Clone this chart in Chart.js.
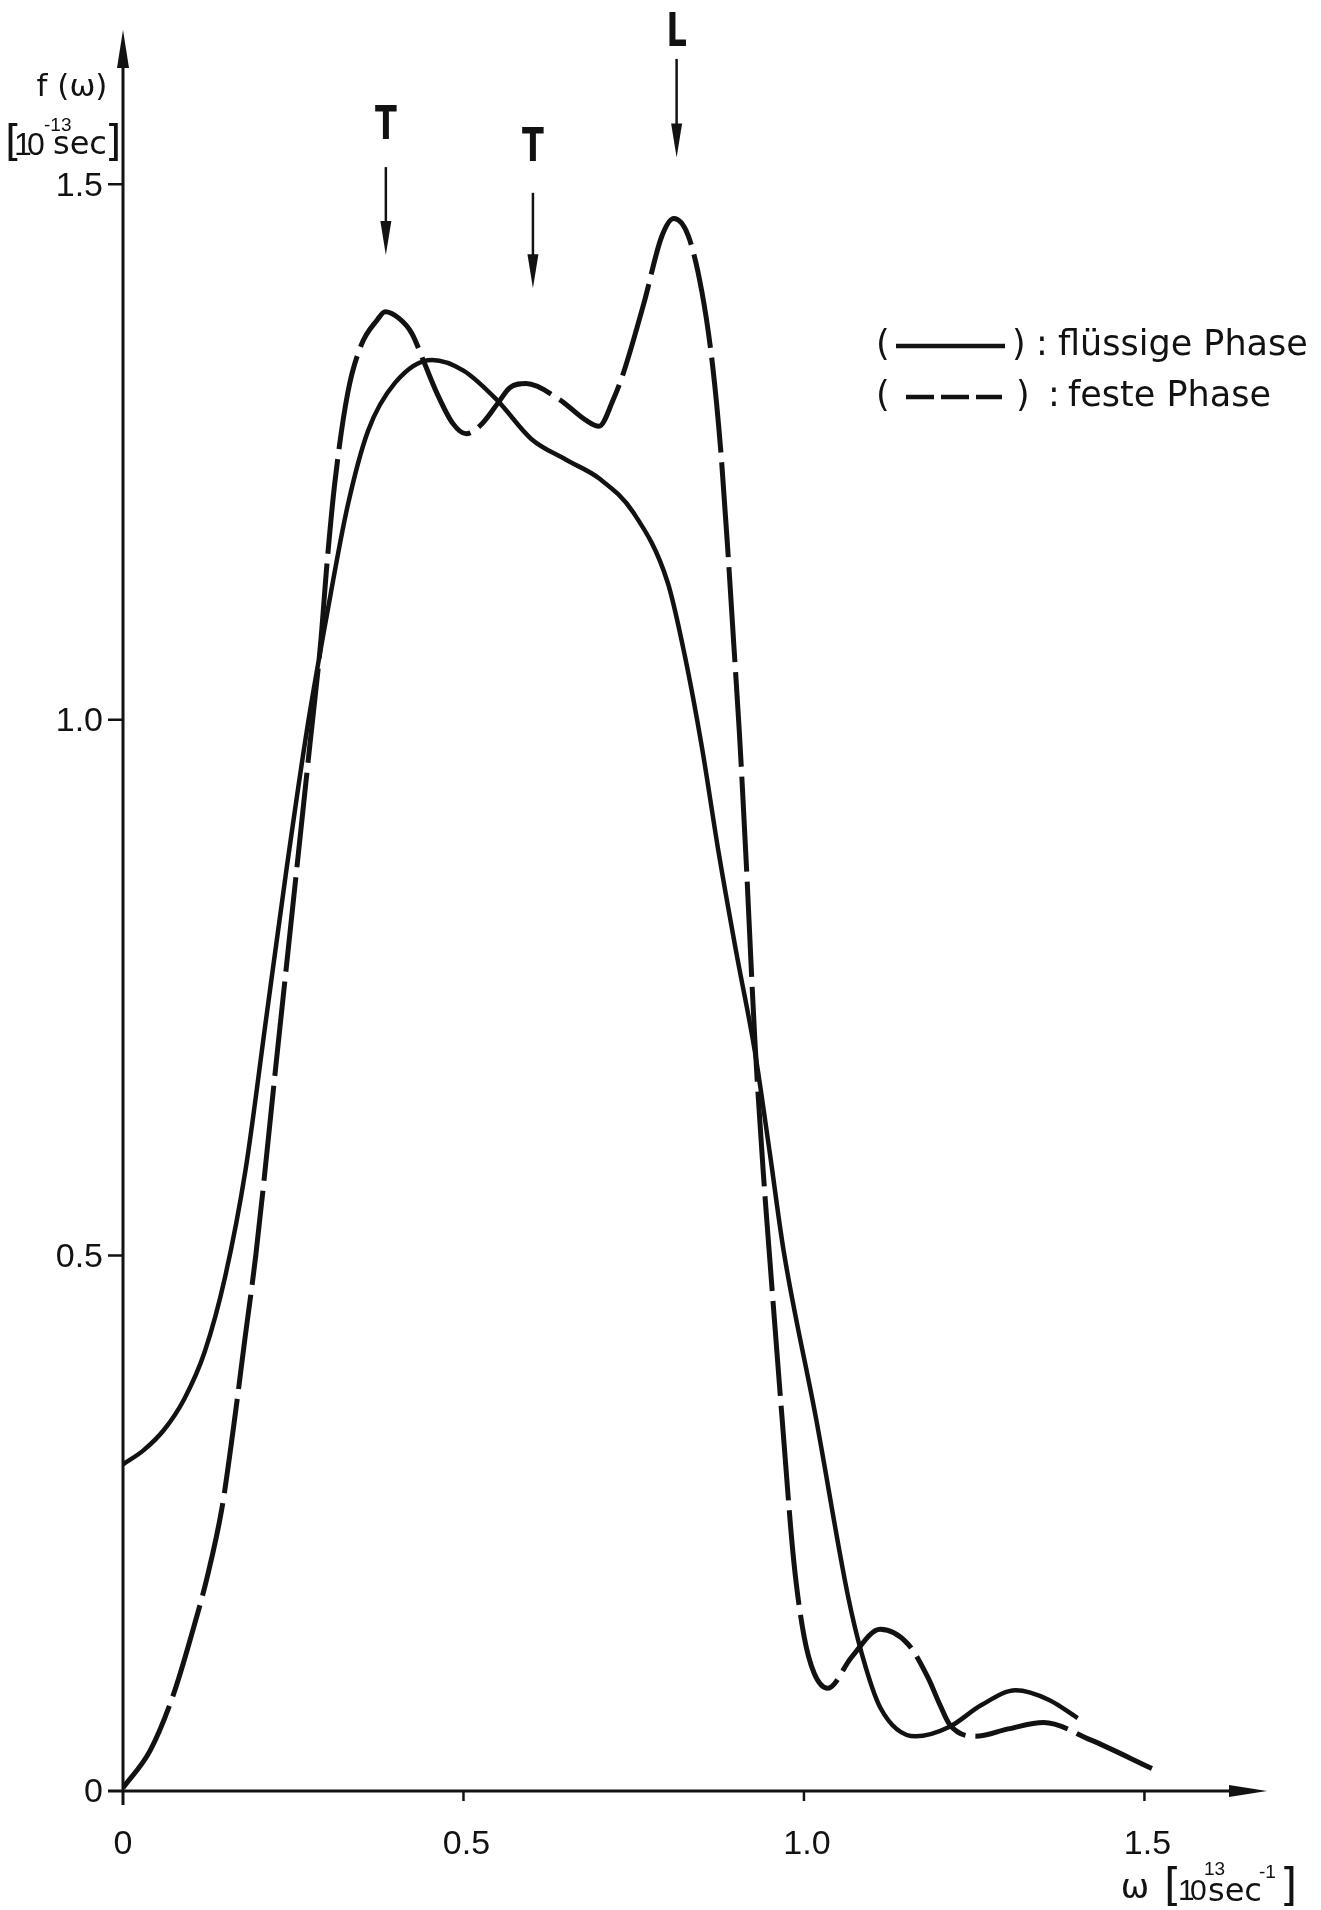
<!DOCTYPE html>
<html>
<head>
<meta charset="utf-8">
<script src="https://cdn.jsdelivr.net/npm/chart.js@4.4.1/dist/chart.umd.min.js"></script>
<style>
  html, body { margin: 0; padding: 0; background: #ffffff; }
  #wrap { width: 1321px; height: 1910px; position: relative; }
</style>
</head>
<body>
<div id="wrap"><canvas id="c"></canvas></div>
<script>
// Frequency spectrum f(ω): ω in 10^13 s^-1, f in 10^-13 s

// liquid phase (solid line)
const omegaLiquid = [0.000, 0.030, 0.060, 0.090, 0.120, 0.150, 0.180, 0.210, 0.240, 0.270,
                     0.300, 0.330, 0.360, 0.400, 0.454, 0.500, 0.550, 0.600, 0.650, 0.700,
                     0.750, 0.800, 0.825, 0.850, 0.875, 0.900, 0.928, 0.950, 0.970, 1.018,
                     1.065, 1.085, 1.112, 1.164, 1.214, 1.260, 1.311, 1.360, 1.402];
const fLiquid     = [0.305, 0.318, 0.337, 0.366, 0.410, 0.480, 0.580, 0.720, 0.860, 0.990,
                     1.100, 1.200, 1.270, 1.315, 1.336, 1.326, 1.298, 1.262, 1.243, 1.225,
                     1.193, 1.128, 1.060, 0.975, 0.875, 0.785, 0.690, 0.595, 0.505, 0.347,
                     0.181, 0.128, 0.078, 0.051, 0.060, 0.080, 0.094, 0.085, 0.068];

// solid phase (dashed line)
const omegaCrystal = [0.000, 0.040, 0.074, 0.103, 0.123, 0.145, 0.162, 0.179, 0.195, 0.225,
                      0.250, 0.275, 0.290, 0.300, 0.311, 0.330, 0.350, 0.373, 0.385, 0.405,
                      0.424, 0.442, 0.461, 0.484, 0.504, 0.525, 0.551, 0.568, 0.592, 0.641,
                      0.679, 0.699, 0.720, 0.735, 0.765, 0.791, 0.809, 0.830, 0.850, 0.866,
                      0.878, 0.888, 0.897, 0.905, 0.915, 0.928, 0.940, 0.950, 0.968, 0.985,
                      1.000, 1.015, 1.035, 1.070, 1.112, 1.153, 1.182, 1.200, 1.214, 1.252,
                      1.300, 1.352, 1.420, 1.511];
const fCrystal     = [0.003, 0.038, 0.090, 0.151, 0.198, 0.263, 0.338, 0.422, 0.500, 0.680,
                      0.830, 0.980, 1.070, 1.149, 1.221, 1.305, 1.350, 1.373, 1.381, 1.375,
                      1.361, 1.334, 1.305, 1.277, 1.267, 1.275, 1.296, 1.310, 1.314, 1.299,
                      1.280, 1.274, 1.299, 1.324, 1.389, 1.451, 1.468, 1.452, 1.400, 1.330,
                      1.250, 1.160, 1.070, 0.990, 0.870, 0.700, 0.580, 0.495, 0.347, 0.215,
                      0.145, 0.110, 0.096, 0.125, 0.151, 0.137, 0.106, 0.080, 0.062, 0.051,
                      0.058, 0.064, 0.048, 0.021];

const xTicks = [0, 0.5, 1.0, 1.5];
const xTickLabels = ['0', '0.5', '1.0', '1.5'];
const yTicks = [0, 0.5, 1.0, 1.5];
const yTickLabels = ['0', '0.5', '1.0', '1.5'];

// branch markers: transverse (T) and longitudinal (L) peaks
const markLabels = ['T', 'T', 'L'];
const markOmega  = [0.386, 0.602, 0.813];

const seriesNames = ['flüssige Phase', 'feste Phase'];

const ink = '#121212';
// vertical levels (in f units) of arrow tips, arrow tails and letters
const markerLevels = {
  tip:    [1.434, 1.403, 1.525],
  tail:   [1.516, 1.492, 1.617],
  letter: [1.554, 1.533, 1.640]
};

function text(ctx, s, x, y, font, align, baseline) {
  ctx.font = font;
  ctx.textAlign = align || 'left';
  ctx.textBaseline = baseline || 'alphabetic';
  ctx.fillText(s, x, y);
}

const drawing = {
  id: 'axesAndNotes',
  beforeDatasetsDraw(chart) {
    const { ctx, scales: { x, y } } = chart;
    const x0 = x.getPixelForValue(0), y0 = y.getPixelForValue(0);
    const xEnd = x.right, yTop = y.top;
    ctx.save();
    ctx.strokeStyle = ink; ctx.fillStyle = ink; ctx.lineWidth = 3; ctx.lineCap = 'butt';
    ctx.beginPath();
    ctx.moveTo(x0, y0 + 14); ctx.lineTo(x0, yTop + 30);
    ctx.moveTo(x0 - 15, y0); ctx.lineTo(xEnd - 30, y0);
    ctx.stroke();
    // arrowheads
    ctx.beginPath();
    ctx.moveTo(x0, yTop); ctx.lineTo(x0 - 6, yTop + 38); ctx.lineTo(x0 + 6, yTop + 38); ctx.closePath();
    ctx.fill();
    ctx.beginPath();
    ctx.moveTo(xEnd, y0); ctx.lineTo(xEnd - 38, y0 - 6); ctx.lineTo(xEnd - 38, y0 + 6); ctx.closePath();
    ctx.fill();
    // tick marks
    ctx.lineWidth = 2.5;
    ctx.beginPath();
    yTicks.forEach(v => { if (v === 0) return; const py = y.getPixelForValue(v); ctx.moveTo(x0 - 15, py); ctx.lineTo(x0, py); });
    xTicks.forEach(v => { if (v === 0) return; const px = x.getPixelForValue(v); ctx.moveTo(px, y0); ctx.lineTo(px, y0 + 10); });
    ctx.stroke();
    ctx.restore();
  },
  afterDraw(chart) {
    const { ctx, scales: { x, y } } = chart;
    const x0 = x.getPixelForValue(0), y0 = y.getPixelForValue(0);
    ctx.save();
    ctx.fillStyle = ink; ctx.strokeStyle = ink;
    const tickFont = "34px 'Liberation Sans', Arial, sans-serif";

    // y tick labels
    yTicks.forEach((v, i) => {
      text(ctx, yTickLabels[i], x0 - 20, y.getPixelForValue(v) + 2, tickFont, 'right', 'middle');
    });
    // x tick labels
    xTicks.forEach((v, i) => {
      text(ctx, xTickLabels[i], x.getPixelForValue(v) + (v === 0 ? 0 : 3), y0 + 54, tickFont, 'center', 'middle');
    });

    // y axis title
    const ttl = "'DejaVu Sans', sans-serif";
    const dig = "'Liberation Sans', sans-serif";
    text(ctx, 'f (ω)', 72, 96, '31px ' + ttl, 'center', 'alphabetic');
    text(ctx, '[', 5, 156, '42px ' + ttl, 'left', 'alphabetic');
    text(ctx, '1', 14, 155, '32px ' + dig, 'left', 'alphabetic');
    text(ctx, '0', 27, 155, '32px ' + dig, 'left', 'alphabetic');
    text(ctx, '-13', 44, 131, '19px ' + dig, 'left', 'alphabetic');
    text(ctx, 'sec', 53, 154, '32px ' + ttl, 'left', 'alphabetic');
    text(ctx, ']', 105, 156, '42px ' + ttl, 'left', 'alphabetic');

    // x axis title
    text(ctx, 'ω', 1135, 1898, '34px ' + ttl, 'center', 'alphabetic');
    text(ctx, '[', 1164, 1900, '44px ' + ttl, 'left', 'alphabetic');
    text(ctx, '1', 1178, 1900, '30px ' + dig, 'left', 'alphabetic');
    text(ctx, '0', 1190, 1900, '30px ' + dig, 'left', 'alphabetic');
    text(ctx, '13', 1204, 1875, '19px ' + dig, 'left', 'alphabetic');
    text(ctx, 'sec', 1208, 1901, '32px ' + ttl, 'left', 'alphabetic');
    text(ctx, '-1', 1259, 1878, '19px ' + dig, 'left', 'alphabetic');
    text(ctx, ']', 1280, 1900, '44px ' + ttl, 'left', 'alphabetic');

    // branch markers with arrows
    markOmega.forEach((w, i) => {
      const px = x.getPixelForValue(w);
      const tip = y.getPixelForValue(markerLevels.tip[i]);
      const tail = y.getPixelForValue(markerLevels.tail[i]);
      ctx.lineWidth = 2.5;
      ctx.beginPath(); ctx.moveTo(px, tail); ctx.lineTo(px, tip - 30); ctx.stroke();
      ctx.beginPath(); ctx.moveTo(px, tip); ctx.lineTo(px - 5.5, tip - 34); ctx.lineTo(px + 5.5, tip - 34); ctx.closePath(); ctx.fill();
      ctx.save();
      ctx.translate(px, y.getPixelForValue(markerLevels.letter[i]));
      ctx.scale(0.68, 1);
      text(ctx, markLabels[i], 0, 0, "bold 47px 'DejaVu Sans', sans-serif", 'center', 'middle');
      ctx.restore();
    });

    // legend
    const lf = '35px ' + ttl;
    const rows = [{ y: 346, dash: [], x1: 896, x2: 1005, close: 1012, colon: 1036, tx: 1058 },
                  { y: 397, dash: [28, 7], x1: 906, x2: 1002, close: 1016, colon: 1048, tx: 1068 }];
    rows.forEach((r, i) => {
      text(ctx, '(', 876, r.y, lf, 'left', 'middle');
      ctx.setLineDash(r.dash); ctx.lineWidth = 4.5;
      ctx.beginPath(); ctx.moveTo(r.x1, r.y); ctx.lineTo(r.x2, r.y); ctx.stroke();
      ctx.setLineDash([]);
      text(ctx, ')', r.close, r.y, lf, 'left', 'middle');
      text(ctx, ':', r.colon, r.y, lf, 'left', 'middle');
      text(ctx, seriesNames[i], r.tx, r.y, lf, 'left', 'middle');
    });
    ctx.restore();
  }
};

new Chart(document.getElementById('c'), {
  type: 'line',
  data: {
    datasets: [
      {
        label: seriesNames[0],
        data: omegaLiquid.map((w, i) => ({ x: w, y: fLiquid[i] })),
        borderColor: ink, borderWidth: 4.5, pointRadius: 0,
        cubicInterpolationMode: 'monotone', fill: false
      },
      {
        label: seriesNames[1],
        data: omegaCrystal.map((w, i) => ({ x: w, y: fCrystal[i] })),
        borderColor: ink, borderWidth: 5, pointRadius: 0, borderDash: [95, 10],
        cubicInterpolationMode: 'monotone', fill: false
      }
    ]
  },
  options: {
    responsive: true,
    maintainAspectRatio: false,
    devicePixelRatio: 1,
    animation: false,
    layout: { padding: { left: 123, right: 54, top: 30, bottom: 119 } },
    plugins: { legend: { display: false }, tooltip: { enabled: false } },
    scales: {
      x: { type: 'linear', min: 0, max: 1.68, display: false },
      y: { type: 'linear', min: 0, max: 1.644, display: false }
    }
  },
  plugins: [drawing]
});
</script>
</body>
</html>
